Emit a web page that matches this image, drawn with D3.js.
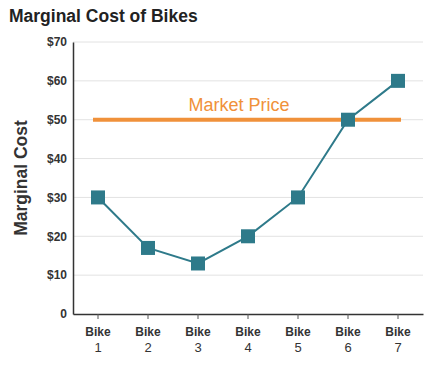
<!DOCTYPE html>
<html>
<head>
<meta charset="utf-8">
<script src="https://cdn.jsdelivr.net/npm/d3@7"></script>
<style>
  body { margin: 0; background: #fff; }
  svg { font-family: "Liberation Sans", Arial, sans-serif; }
</style>
</head>
<body>
<svg id="chart" width="430" height="365"></svg>
<script>
const bikes = ["1", "2", "3", "4", "5", "6", "7"];
const marginalCost = [30, 17, 13, 20, 30, 50, 60];
const yTicks = [0, 10, 20, 30, 40, 50, 60, 70];
const marketPrice = 50;

const margin = { top: 42, right: 7, bottom: 51, left: 73 };
const svg = d3.select("#chart");
const width = 430, height = 365;

const xScale = d3.scaleBand()
  .domain(bikes)
  .range([margin.left, width - margin.right]);

const yScale = d3.scaleLinear()
  .domain([0, 70])
  .range([height - margin.bottom, margin.top]);

// title
svg.append("text")
  .attr("x", 9).attr("y", 22)
  .attr("font-size", 17.5).attr("font-weight", "bold")
  .attr("fill", "#222")
  .text("Marginal Cost of Bikes");

// gridlines
svg.append("g")
  .selectAll("line")
  .data(yTicks.filter(d => d > 0))
  .join("line")
  .attr("x1", margin.left).attr("x2", width - margin.right)
  .attr("y1", d => yScale(d)).attr("y2", d => yScale(d))
  .attr("stroke", "#e2e2e2").attr("stroke-width", 1);

// y axis
const yAxis = d3.axisLeft(yScale)
  .tickValues(yTicks)
  .tickSize(0)
  .tickPadding(6)
  .tickFormat(d => d === 0 ? "0" : "$" + d);

const gy = svg.append("g")
  .attr("transform", `translate(${margin.left},0)`)
  .call(yAxis);
gy.select(".domain").attr("stroke", "#333").attr("stroke-width", 1.5);
gy.selectAll("text")
  .attr("font-size", 12).attr("font-weight", "bold")
  .attr("fill", "#333")
  .attr("font-family", "Liberation Sans, Arial, sans-serif");

// x axis
const xAxis = d3.axisBottom(xScale)
  .tickSizeOuter(0)
  .tickSizeInner(5)
  .tickFormat("");

const gx = svg.append("g")
  .attr("transform", `translate(0,${height - margin.bottom})`)
  .call(xAxis);
gx.select(".domain").attr("stroke", "#333").attr("stroke-width", 1.5);
gx.selectAll(".tick line").attr("stroke", "#555");
gx.selectAll(".tick text").remove();
gx.selectAll(".tick")
  .append("text")
  .attr("text-anchor", "middle")
  .attr("fill", "#333")
  .attr("font-family", "Liberation Sans, Arial, sans-serif")
  .each(function(d) {
    const t = d3.select(this);
    t.append("tspan").attr("x", 0).attr("y", 22)
      .attr("font-size", 12).attr("font-weight", "bold").text("Bike");
    t.append("tspan").attr("x", 0).attr("y", 38)
      .attr("font-size", 13).text(d);
  });

// y label
svg.append("text")
  .attr("transform", `translate(27,${(margin.top + height - margin.bottom) / 2}) rotate(-90)`)
  .attr("text-anchor", "middle")
  .attr("font-size", 17.5).attr("font-weight", "bold")
  .attr("fill", "#333")
  .text("Marginal Cost");

// market price line
const cx = d => xScale(d) + xScale.bandwidth() / 2;
svg.append("line")
  .attr("x1", cx(bikes[0]) - 5).attr("x2", cx(bikes[6]) + 3)
  .attr("y1", yScale(marketPrice)).attr("y2", yScale(marketPrice))
  .attr("stroke", "#f0913a").attr("stroke-width", 4);

svg.append("text")
  .attr("x", 239).attr("y", yScale(marketPrice) - 9)
  .attr("text-anchor", "middle")
  .attr("font-size", 18)
  .attr("fill", "#f0913a")
  .text("Market Price");

// cost line
const data = bikes.map((b, i) => ({ bike: b, value: marginalCost[i] }));
const line = d3.line()
  .x(d => cx(d.bike))
  .y(d => yScale(d.value));

svg.append("path")
  .datum(data)
  .attr("d", line)
  .attr("fill", "none")
  .attr("stroke", "#2e7a8a")
  .attr("stroke-width", 2);

const sq = 14;
svg.append("g")
  .selectAll("rect")
  .data(data)
  .join("rect")
  .attr("x", d => cx(d.bike) - sq / 2)
  .attr("y", d => yScale(d.value) - sq / 2)
  .attr("width", sq).attr("height", sq)
  .attr("fill", "#2e7a8a");
</script>
</body>
</html>
